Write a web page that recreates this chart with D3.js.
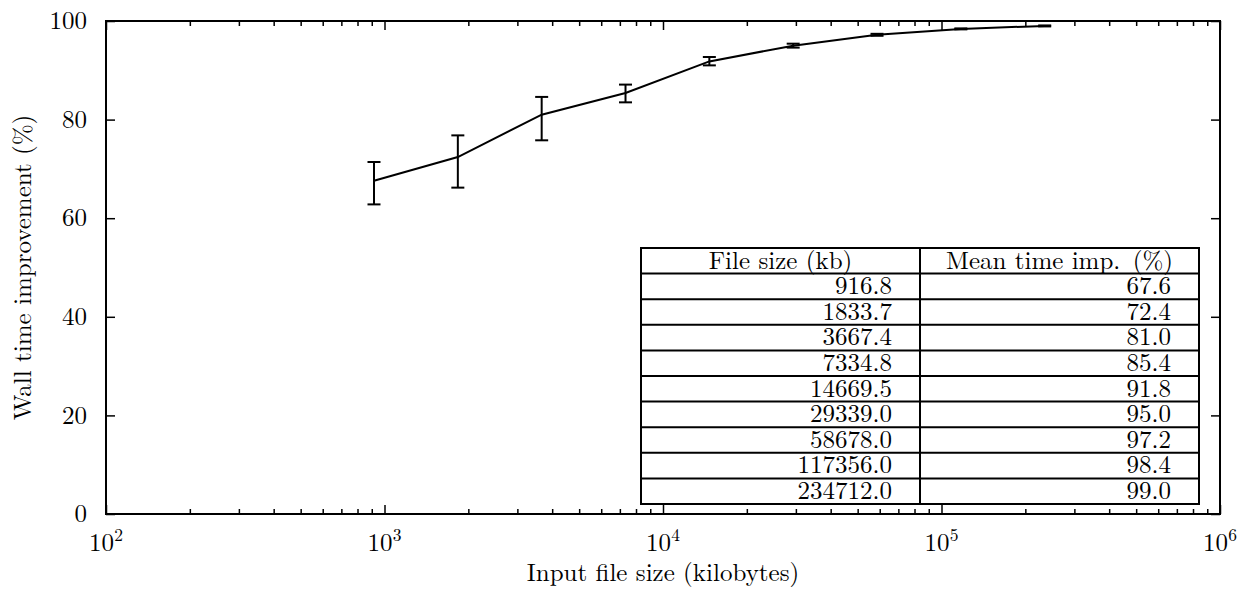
<!DOCTYPE html>
<html>
<head>
<meta charset="utf-8">
<script src="https://cdn.jsdelivr.net/npm/d3@7"></script>
<style>
  html, body { margin: 0; padding: 0; background: #fff; }
  svg { display: block; }
</style>
</head>
<body>
<svg id="chart" width="1250" height="597"></svg>
<script>
// ---- data ----
const fileSizes = [916.8, 1833.7, 3667.4, 7334.8, 14669.5, 29339.0, 58678.0, 117356.0, 234712.0];
const meanImprovement = [67.6, 72.4, 81.0, 85.4, 91.8, 95.0, 97.2, 98.4, 99.0];
const errLow  = [62.8, 66.2, 75.8, 83.5, 91.0, 94.6, 97.0, 98.3, 98.9];
const errHigh = [71.4, 76.8, 84.6, 87.1, 92.7, 95.4, 97.4, 98.5, 99.1];
const tableFileSizeLabels = ["916.8", "1833.7", "3667.4", "7334.8", "14669.5", "29339.0", "58678.0", "117356.0", "234712.0"];
const tableMeanLabels = ["67.6", "72.4", "81.0", "85.4", "91.8", "95.0", "97.2", "98.4", "99.0"];
const tableHeaders = ["File size (kb)", "Mean time imp.\u2002(%)"];
const xTickExponents = [2, 3, 4, 5, 6];
const yTicks = [0, 20, 40, 60, 80, 100];
const xTitle = "Input file size (kilobytes)";
const yTitle = "Wall time improvement (%)";

// ---- layout ----
const FONT = '"Latin Modern Roman", "CMU Serif", "Liberation Serif", serif';
const svg = d3.select("#chart");
const root = svg.append("g").attr("font-family", FONT).attr("fill", "#000");
const L = 106, R = 1220, T = 21, B = 514;
const FS = 25;
const TFS = 25;

const x = d3.scaleLog().domain([1e2, 1e6]).range([L, R]);
const y = d3.scaleLinear().domain([0, 100]).range([B, T]);

root.append("rect").attr("width", 1250).attr("height", 597).attr("fill", "#fff");

const majorX = xTickExponents.map(e => Math.pow(10, e));
const minorX = [];
for (let e = 2; e < 6; e++) for (let m = 2; m <= 9; m++) minorX.push(m * Math.pow(10, e));

function styleAxis(g) {
  g.select(".domain").remove();
  g.selectAll(".tick line").attr("stroke", "#000").attr("stroke-width", 1.5);
  g.selectAll(".tick text").remove();
}
root.append("g").attr("transform", `translate(0,${B})`)
  .call(d3.axisBottom(x).tickValues(majorX).tickSize(-9).tickFormat("")).call(styleAxis);
root.append("g").attr("transform", `translate(0,${B})`)
  .call(d3.axisBottom(x).tickValues(minorX).tickSize(-5).tickFormat("")).call(styleAxis);
root.append("g").attr("transform", `translate(0,${T})`)
  .call(d3.axisTop(x).tickValues(majorX).tickSize(-9).tickFormat("")).call(styleAxis);
root.append("g").attr("transform", `translate(0,${T})`)
  .call(d3.axisTop(x).tickValues(minorX).tickSize(-5).tickFormat("")).call(styleAxis);
root.append("g").attr("transform", `translate(${L},0)`)
  .call(d3.axisLeft(y).tickValues(yTicks).tickSize(-9).tickFormat("")).call(styleAxis);
root.append("g").attr("transform", `translate(${R},0)`)
  .call(d3.axisRight(y).tickValues(yTicks).tickSize(-9).tickFormat("")).call(styleAxis);

root.append("rect").attr("x", L).attr("y", T).attr("width", R - L).attr("height", B - T)
  .attr("fill", "none").attr("stroke", "#000").attr("stroke-width", 2);

// x tick labels 10^n
const xl = root.append("g").selectAll("text").data(majorX).join("text")
  .attr("x", d => x(d)).attr("y", B + 37)
  .attr("text-anchor", "middle").attr("font-size", FS);
xl.append("tspan").text("10");
xl.append("tspan").attr("dy", -10).attr("font-size", 17.5).text(d => String(Math.round(Math.log10(d))));

// y tick labels
root.append("g").selectAll("text").data(yTicks).join("text")
  .attr("x", L - 19).attr("y", d => y(d)).attr("dy", "0.33em")
  .attr("text-anchor", "end").attr("font-size", FS).text(d => d);

// axis titles
root.append("text").attr("x", (L + R) / 2).attr("y", 581)
  .attr("text-anchor", "middle").attr("font-size", FS).text(xTitle);
root.append("text").attr("transform", `translate(31,${(T + B) / 2}) rotate(-90)`)
  .attr("text-anchor", "middle").attr("font-size", FS).text(yTitle);

// data line
const pts = fileSizes.map((d, i) => ({ x: d, y: meanImprovement[i], lo: errLow[i], hi: errHigh[i] }));
root.append("path").datum(pts)
  .attr("fill", "none").attr("stroke", "#000").attr("stroke-width", 2)
  .attr("d", d3.line().x(d => x(d.x)).y(d => y(d.y)));

// error bars
const eb = root.append("g").attr("stroke", "#000").attr("stroke-width", 2);
eb.selectAll("line.v").data(pts).join("line").attr("class", "v")
  .attr("x1", d => x(d.x)).attr("x2", d => x(d.x))
  .attr("y1", d => y(d.lo)).attr("y2", d => y(d.hi));
eb.selectAll("line.lo").data(pts).join("line").attr("class", "lo")
  .attr("x1", d => x(d.x) - 6.5).attr("x2", d => x(d.x) + 6.5)
  .attr("y1", d => y(d.lo)).attr("y2", d => y(d.lo));
eb.selectAll("line.hi").data(pts).join("line").attr("class", "hi")
  .attr("x1", d => x(d.x) - 6.5).attr("x2", d => x(d.x) + 6.5)
  .attr("y1", d => y(d.hi)).attr("y2", d => y(d.hi));

// table
const tL = 641, tM = 920, tR = 1199, tT = 248, tB = 504;
const nRows = tableFileSizeLabels.length + 1;
const rowH = (tB - tT) / nRows;
const base = rowH - 5;
const tbl = root.append("g");
tbl.append("rect").attr("x", tL).attr("y", tT).attr("width", tR - tL).attr("height", tB - tT)
  .attr("fill", "#fff").attr("stroke", "#000").attr("stroke-width", 2);
tbl.selectAll("line.row").data(d3.range(1, nRows)).join("line").attr("class", "row")
  .attr("x1", tL).attr("x2", tR).attr("y1", i => tT + i * rowH).attr("y2", i => tT + i * rowH)
  .attr("stroke", "#000").attr("stroke-width", 2);
tbl.append("line").attr("x1", tM).attr("x2", tM).attr("y1", tT).attr("y2", tB)
  .attr("stroke", "#000").attr("stroke-width", 2);
tbl.selectAll("text.h").data(tableHeaders).join("text").attr("class", "h")
  .attr("x", (d, i) => i === 0 ? (tL + tM) / 2 : (tM + tR) / 2)
  .attr("y", tT + base).attr("text-anchor", "middle")
  .attr("font-size", TFS).text(d => d);
tbl.selectAll("text.c1").data(tableFileSizeLabels).join("text").attr("class", "c1")
  .attr("x", tM - 28).attr("y", (d, i) => tT + (i + 1) * rowH + base).attr("text-anchor", "end")
  .attr("font-size", TFS).text(d => d);
tbl.selectAll("text.c2").data(tableMeanLabels).join("text").attr("class", "c2")
  .attr("x", tR - 28).attr("y", (d, i) => tT + (i + 1) * rowH + base).attr("text-anchor", "end")
  .attr("font-size", TFS).text(d => d);
</script>
</body>
</html>
